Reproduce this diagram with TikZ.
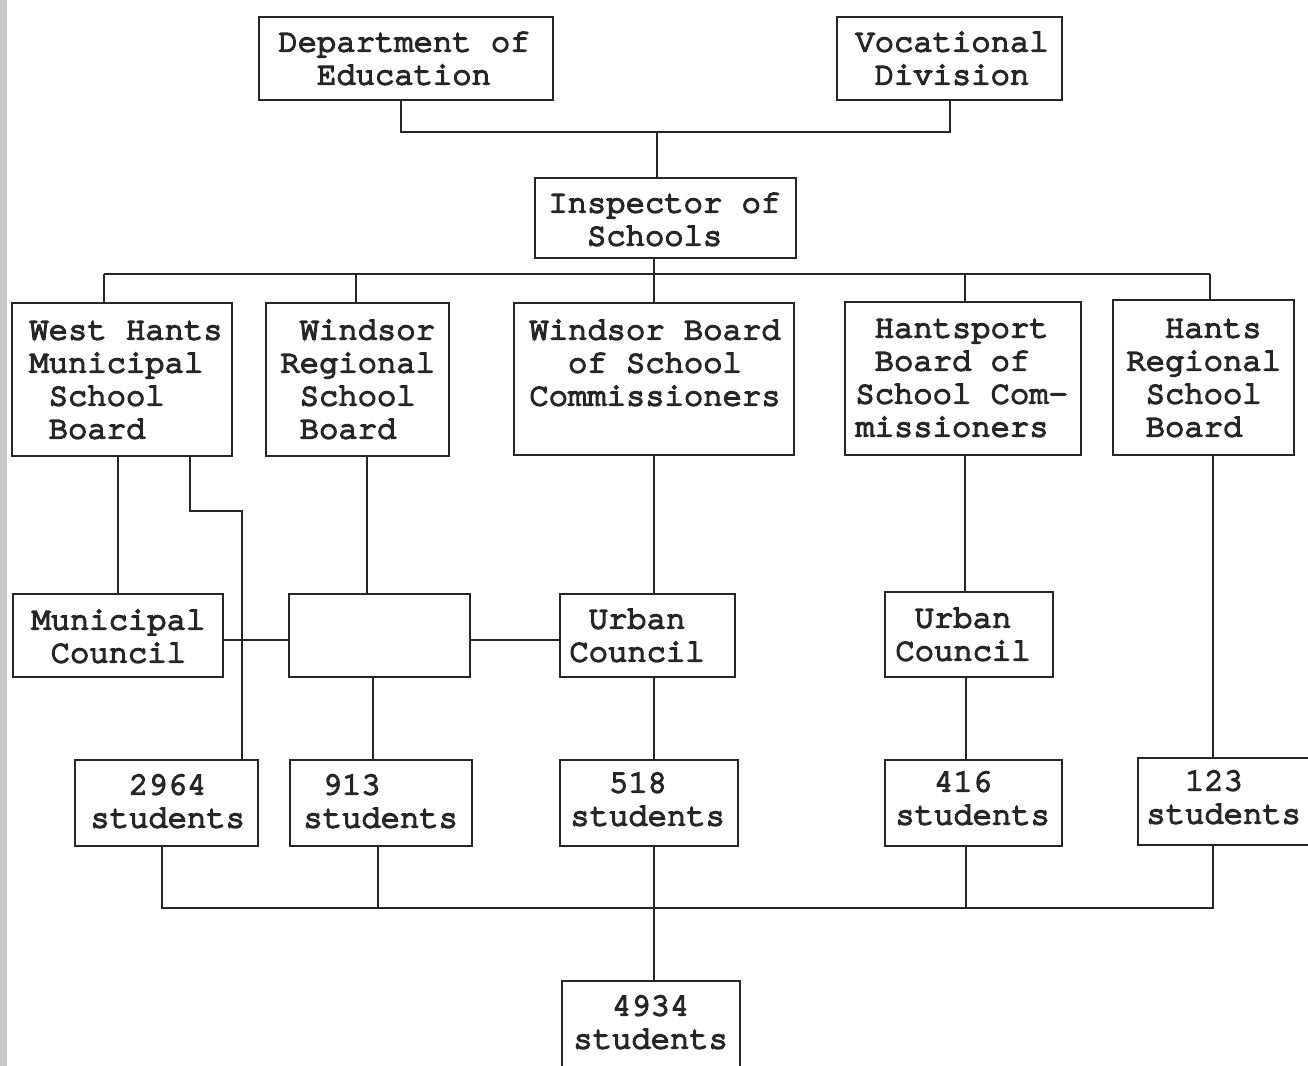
\documentclass[tikz,border=0pt]{standalone}
\usepackage{fontspec}
\newfontfamily\tw[FakeBold=5]{texgyrecursor-regular.otf}
\usetikzlibrary{fit}
\definecolor{ink}{HTML}{262626}
\definecolor{scan}{HTML}{C8C8C8}
\newcommand{\tl}{\rule{0pt}{12pt}}
\begin{document}
\begin{tikzpicture}[x=0.5pt,y=-0.5pt,
  box/.style={draw=ink, line width=1.1pt, inner sep=0pt, rectangle},
  txt/.style={anchor=north west, inner sep=0pt, align=left, text=ink,
    font=\tw\fontsize{16.1}{16.5}\selectfont},
  ln/.style={draw=ink, line width=1pt}]
\useasboundingbox (0,0) rectangle (1308,1066);
\fill[white] (0,0) rectangle (1308,1066);
\fill[scan] (0,0) rectangle (7,1066);

% ---- boxes ----
\node[box, fit={(259,17) (553,100)}] (dept) {};
\node[txt] (deptT) at (278,27) {\tl Department of\\~~Education};
\node[box, fit={(837,17) (1062,100)}] (voc) {};
\node[txt] (vocT) at (855,27) {\tl Vocational\\~Division};
\node[box, fit={(535,178) (796,258)}] (insp) {};
\node[txt] (inspT) at (548,188) {\tl Inspector of\\~~Schools};

\node[box, fit={(12,303) (232,456)}] (wh) {};
\node[txt] (whT) at (29,315) {\tl West Hants\\Municipal\\~School\\~Board};
\node[box, fit={(266,303) (449,456)}] (wr) {};
\node[txt] (wrT) at (280,315) {\tl ~Windsor\\Regional\\~School\\~Board};
\node[box, fit={(514,303) (794,455)}] (wb) {};
\node[txt] (wbT) at (529,315) {\tl Windsor Board\\~~of School\\Commissioners};
\node[box, fit={(845,302) (1081,455)}] (hs) {};
\node[txt] (hsT) at (855,313) {\tl ~Hantsport\\~Board of\\School Com-\\missioners};
\node[box, fit={(1113,300) (1294,455)}] (hr) {};
\node[txt] (hrT) at (1126,313) {\tl ~~Hants\\Regional\\~School\\~Board};

\node[box, fit={(13,594) (223,677)}] (mc) {};
\node[txt] (mcT) at (31,605) {\tl Municipal\\~Council};
\node[box, fit={(289,594) (470,677)}] (blank) {};
\node[box, fit={(560,594) (735,677)}] (uc1) {};
\node[txt] (uc1T) at (569,604) {\tl ~Urban\\Council};
\node[box, fit={(885,592) (1053,677)}] (uc2) {};
\node[txt] (uc2T) at (895,603) {\tl ~Urban\\Council};

\node[box, fit={(75,760) (258,846)}] (s1) {};
\node[txt] (s1T) at (90,770) {\tl ~~2964\\students};
\node[box, fit={(290,760) (472,846)}] (s2) {};
\node[txt] (s2T) at (303,770) {\tl ~913\\students};
\node[box, fit={(560,760) (738,846)}] (s3) {};
\node[txt] (s3T) at (570,768) {\tl ~~518\\students};
\node[box, fit={(885,760) (1062,846)}] (s4) {};
\node[txt] (s4T) at (895,767) {\tl ~~416\\students};
\node[box, fit={(1138,758) (1320,845)}] (s5) {};
\node[txt] (s5T) at (1146,766) {\tl ~~123\\students};
\node[box, fit={(562,981) (740,1090)}] (tot) {};
\node[txt] (totT) at (573,991) {\tl ~~4934\\students};

% ---- junction coordinates ----
\coordinate (jtop) at (657,132);
\coordinate (x401) at (401,0);
\coordinate (jbus) at (654,274);
\coordinate (busL) at (104,274);
\coordinate (busR) at (1210,274);
\coordinate (x356) at (356,274);
\coordinate (x965) at (965,274);
\coordinate (x118) at (118,0);
\coordinate (x190) at (190,511);
\coordinate (x242) at (242,511);
\coordinate (x367) at (367,0);
\coordinate (x373) at (373,0);
\coordinate (x654) at (654,0);
\coordinate (x966) at (966,0);
\coordinate (x1213) at (1213,0);
\coordinate (y640) at (0,640);
\coordinate (botL) at (162,908);
\coordinate (botR) at (1213,908);
\coordinate (x378) at (378,908);
\coordinate (jbot) at (654,908);

% ---- connectors ----
\draw[ln] (x401 |- dept.south) |- (jtop) -| (voc.south);
\draw[ln] (jtop) -- (jtop |- insp.north);
\draw[ln] (jbus |- insp.south) -- (jbus);
\draw[ln] (busL) -- (busR);
\draw[ln] (busL) -- (busL |- wh.north);
\draw[ln] (x356) -- (x356 |- wr.north);
\draw[ln] (jbus) -- (jbus |- wb.north);
\draw[ln] (x965) -- (x965 |- hs.north);
\draw[ln] (busR) -- (busR |- hr.north);

\draw[ln] (x118 |- wh.south) -- (x118 |- mc.north);
\draw[ln] (x190 |- wh.south) -- (x190) -- (x242) -- (x242 |- s1.north);
\draw[ln] (x367 |- wr.south) -- (x367 |- blank.north);
\draw[ln] (x654 |- wb.south) -- (x654 |- uc1.north);
\draw[ln] (x965 |- hs.south) -- (x965 |- uc2.north);
\draw[ln] (x1213 |- hr.south) -- (x1213 |- s5.north);
\draw[ln] (mc.east |- y640) -- (blank.west |- y640);
\draw[ln] (blank.east |- y640) -- (uc1.west |- y640);
\draw[ln] (x373 |- blank.south) -- (x373 |- s2.north);
\draw[ln] (x654 |- uc1.south) -- (x654 |- s3.north);
\draw[ln] (x966 |- uc2.south) -- (x966 |- s4.north);

\draw[ln] (botL |- s1.south) -- (botL) -- (botR) -- (botR |- s5.south);
\draw[ln] (x378 |- s2.south) -- (x378);
\draw[ln] (x654 |- s3.south) -- (jbot);
\draw[ln] (x966 |- s4.south) -- (x966 |- jbot);
\draw[ln] (jbot) -- (jbot |- tot.north);
\end{tikzpicture}
\end{document}
